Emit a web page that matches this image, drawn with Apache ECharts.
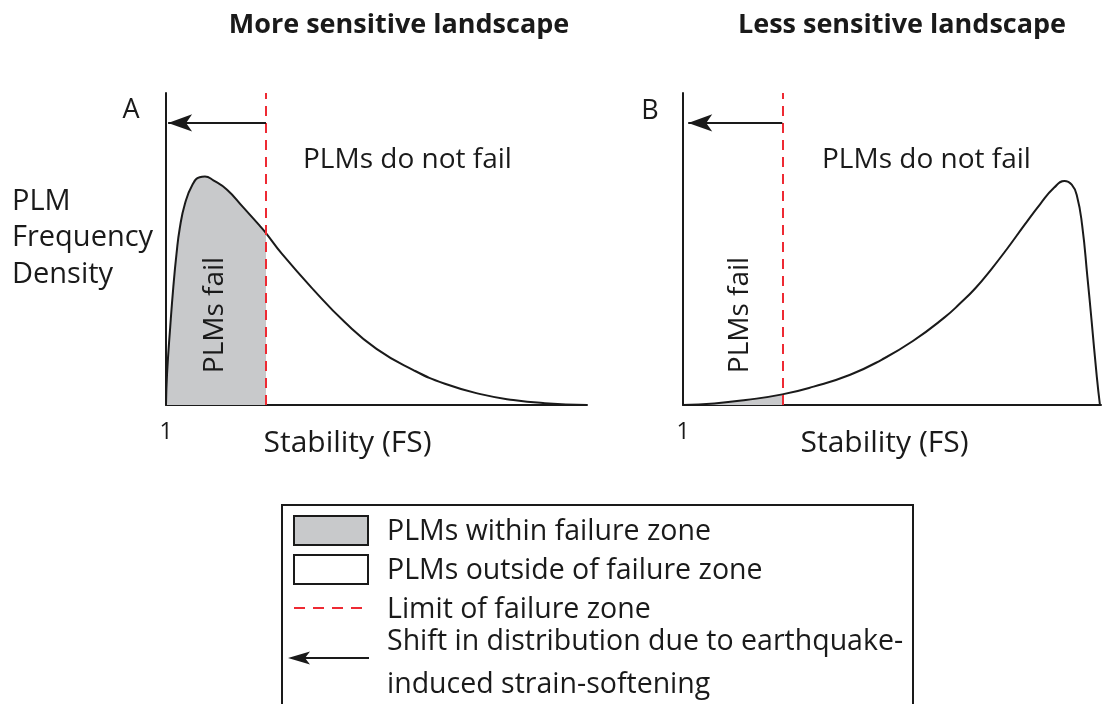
<!DOCTYPE html>
<html>
<head>
<meta charset="utf-8">
<script src="https://cdn.jsdelivr.net/npm/echarts@6/dist/echarts.min.js"></script>
<style>
  html, body { margin: 0; padding: 0; background: #fff; }
  #chart { width: 1104px; height: 704px; }
</style>
</head>
<body>
<div id="chart"></div>
<script>
// Stability axis (factor of safety) and the limit of the failure zone
const fsMin = 1;
const fsMax = 5;
const failLimit = 1.95;
const shiftLevel = 0.904;     // height of the shift arrow on the density scale
const shiftTip = [1.02, 1.05]; // where each shift arrow ends

// Panel A: more sensitive landscape (mass piled up near FS = 1)
const fsA = [1.0, 1.01, 1.04, 1.07, 1.10, 1.13, 1.18, 1.25, 1.32, 1.37, 1.45, 1.58, 1.73, 1.89, 1.95,
             2.10, 2.40, 2.70, 3.00, 3.35, 3.65, 4.00, 4.30, 4.60, 5.00];
const densityA = [0, 0.10, 0.25, 0.38, 0.485, 0.565, 0.645, 0.705, 0.73, 0.732, 0.72, 0.69, 0.635, 0.575, 0.551,
                  0.485, 0.37, 0.265, 0.18, 0.112, 0.068, 0.034, 0.016, 0.006, 0];

// Panel B: less sensitive landscape (mass piled up at high FS)
const fsB = [1.0, 1.3, 1.6, 1.95, 2.25, 2.6, 2.9, 3.2, 3.5, 3.65, 3.8, 3.95, 4.1, 4.27, 4.42, 4.55,
             4.65, 4.72, 4.77, 4.82, 4.87, 4.91, 4.96, 4.99];
const densityB = [0, 0.005, 0.016, 0.034, 0.059, 0.097, 0.145, 0.205, 0.28, 0.325, 0.375, 0.435, 0.50, 0.578, 0.645, 0.696,
                  0.718, 0.706, 0.67, 0.575, 0.41, 0.27, 0.09, 0];

// Text
const panelTitles = ['More sensitive landscape', 'Less sensitive landscape'];
const panelLetters = ['A', 'B'];
const xAxisName = 'Stability (FS)';
const yAxisName = 'PLM\nFrequency\nDensity';
const failText = 'PLMs fail';
const safeText = 'PLMs do not fail';
const legendLabels = [
  'PLMs within failure zone',
  'PLMs outside of failure zone',
  'Limit of failure zone',
  'Shift in distribution due to earthquake-\ninduced strain-softening'
];

const FONT = "'Open Sans', sans-serif";
const INK = '#1a1a1a';
const FILL = '#c8c9cb';
const RED = '#ee2a33';

const zip = (xs, ys) => xs.map((x, i) => [x, ys[i]]);
const ptsA = zip(fsA, densityA);
const ptsB = zip(fsB, densityB);
const failPart = pts => pts.filter(p => p[0] <= failLimit);

const grids = [
  { left: 166, top: 93, width: 421, height: 312 },
  { left: 683, top: 93, width: 421, height: 312 }
];
const namePad = [[0, 58, 0, 0], [0, 15, 0, 0]];

const xAxes = grids.map((g, i) => ({
  type: 'value', gridIndex: i, min: fsMin, max: fsMax, interval: 1,
  axisLine: { show: true, onZero: false, lineStyle: { color: INK, width: 2 } },
  axisTick: { show: false },
  splitLine: { show: false },
  axisLabel: {
    margin: 16, fontSize: 23, fontFamily: FONT, color: INK,
    formatter: v => (v === 1 ? '1' : '')
  },
  name: xAxisName, nameLocation: 'middle', nameGap: 23, nameMoveOverlap: false,
  nameTextStyle: { fontSize: 30, fontFamily: FONT, color: INK, padding: namePad[i] }
}));
const yAxes = grids.map((g, i) => ({
  type: 'value', gridIndex: i, min: 0, max: 1,
  axisLine: { show: true, onZero: false, lineStyle: { color: INK, width: 2 } },
  axisTick: { show: false },
  axisLabel: { show: false },
  splitLine: { show: false }
}));

function panelSeries(pts, idx) {
  return [
    {
      type: 'line', xAxisIndex: idx, yAxisIndex: idx,
      data: failPart(pts), smooth: 0.5, symbol: 'none',
      lineStyle: { width: 0 }, areaStyle: { color: FILL, opacity: 1 },
      silent: true, z: 1
    },
    {
      type: 'line', xAxisIndex: idx, yAxisIndex: idx,
      data: pts, smooth: 0.5, symbol: 'none',
      lineStyle: { color: INK, width: 2 },
      silent: true, z: 3,
      markLine: {
        silent: true, animation: false,
        symbol: ['none', 'none'],
        label: { show: false },
        data: [
          { xAxis: failLimit,
            lineStyle: { color: RED, width: 2, type: [10, 7] } },
          [
            { coord: [failLimit, shiftLevel],
              lineStyle: { color: INK, width: 2, type: 'solid' } },
            { coord: [shiftTip[idx], shiftLevel], symbol: 'arrow', symbolSize: [13, 24] }
          ]
        ]
      }
    }
  ];
}

// Legend swatches and labels
const LX = 294, LW = 74, TX = 387;
const LFONT = `28.5px ${FONT}`;
const legendGraphics = [
  { type: 'rect', shape: { x: 282, y: 505, width: 631, height: 260 },
    style: { fill: 'none', stroke: INK, lineWidth: 2 } },
  { type: 'rect', shape: { x: LX, y: 516, width: LW, height: 29 },
    style: { fill: FILL, stroke: INK, lineWidth: 2 } },
  { type: 'rect', shape: { x: LX, y: 555, width: LW, height: 29 },
    style: { fill: '#fff', stroke: INK, lineWidth: 2 } },
  { type: 'line', shape: { x1: LX, y1: 608, x2: LX + LW, y2: 608 },
    style: { stroke: RED, lineWidth: 2, lineDash: [11, 8] } },
  { type: 'line', shape: { x1: LX + 75, y1: 658, x2: 305, y2: 658 },
    style: { stroke: INK, lineWidth: 2 } },
  { type: 'polygon', shape: { points: [[288, 658], [310, 651.5], [305, 658], [310, 664.5]] },
    style: { fill: INK } },
  { type: 'text', x: TX, y: 531.5, style: { text: legendLabels[0], font: LFONT, fill: INK, verticalAlign: 'middle' } },
  { type: 'text', x: TX, y: 570.5, style: { text: legendLabels[1], font: LFONT, fill: INK, verticalAlign: 'middle' } },
  { type: 'text', x: TX, y: 610, style: { text: legendLabels[2], font: LFONT, fill: INK, verticalAlign: 'middle' } },
  { type: 'text', x: TX, y: 663.5, style: { text: legendLabels[3], font: LFONT, fill: INK, verticalAlign: 'middle', lineHeight: 43 } }
];

const annotations = [
  { type: 'text', x: 399, y: 25, style: { text: panelTitles[0], font: `bold 27px ${FONT}`, fill: INK, align: 'center', verticalAlign: 'middle' } },
  { type: 'text', x: 902, y: 25, style: { text: panelTitles[1], font: `bold 27px ${FONT}`, fill: INK, align: 'center', verticalAlign: 'middle' } },
  { type: 'text', x: 131, y: 110, style: { text: panelLetters[0], font: `27px ${FONT}`, fill: INK, align: 'center', verticalAlign: 'middle' } },
  { type: 'text', x: 650, y: 111, style: { text: panelLetters[1], font: `27px ${FONT}`, fill: INK, align: 'center', verticalAlign: 'middle' } },
  { type: 'text', x: 12, y: 238, style: { text: yAxisName, font: `29px ${FONT}`, fill: INK, verticalAlign: 'middle', lineHeight: 36.5 } },
  { type: 'text', x: 303, y: 160, style: { text: safeText, font: `28px ${FONT}`, fill: INK, verticalAlign: 'middle' } },
  { type: 'text', x: 822, y: 160, style: { text: safeText, font: `28px ${FONT}`, fill: INK, verticalAlign: 'middle' } },
  { type: 'text', x: 215, y: 315, rotation: Math.PI / 2, style: { text: failText, font: `28px ${FONT}`, fill: INK, align: 'center', verticalAlign: 'middle' }, z: 10 },
  { type: 'text', x: 740, y: 315, rotation: Math.PI / 2, style: { text: failText, font: `28px ${FONT}`, fill: INK, align: 'center', verticalAlign: 'middle' }, z: 10 }
];

const chart = echarts.init(document.getElementById('chart'), null, { renderer: 'canvas' });
chart.setOption({
  animation: false,
  backgroundColor: '#fff',
  grid: grids,
  xAxis: xAxes,
  yAxis: yAxes,
  series: [...panelSeries(ptsA, 0), ...panelSeries(ptsB, 1)],
  graphic: [...annotations, ...legendGraphics]
});
</script>
</body>
</html>
